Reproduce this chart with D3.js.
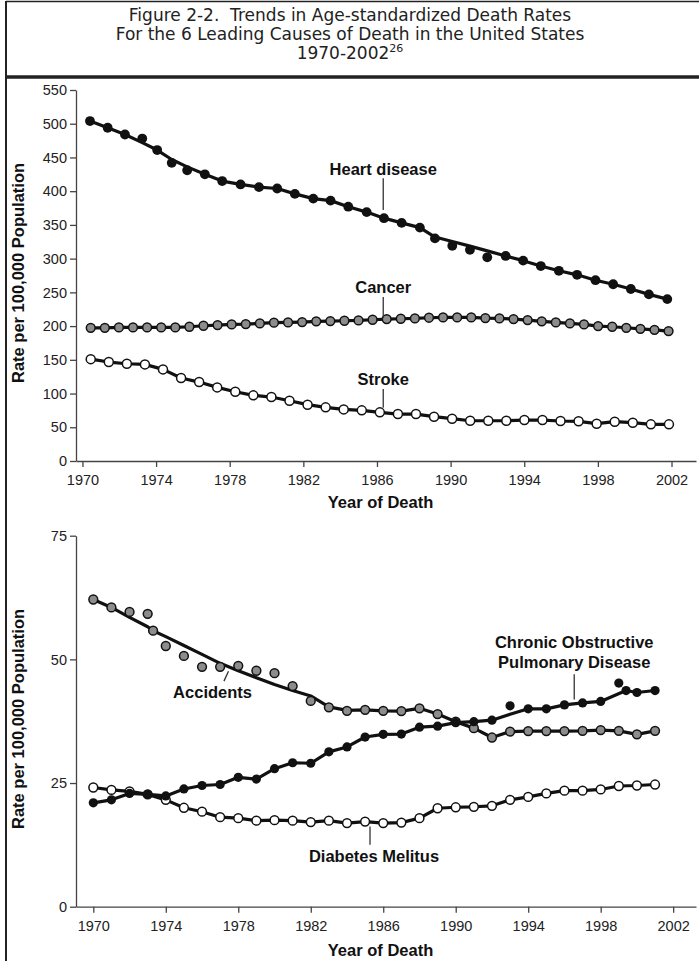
<!DOCTYPE html>
<html>
<head>
<meta charset="utf-8">
<script src="https://cdn.jsdelivr.net/npm/d3@7"></script>
<style>
  body { margin: 0; background: #fff; }
  svg { display: block; }
  .tick text { font-family: "Liberation Sans", Arial, sans-serif; font-size: 14.5px; fill: #222; }
  .tick line, .domain { stroke: #444; stroke-width: 1.3; }
  .lab { font-family: "Liberation Sans", Arial, sans-serif; font-weight: bold; font-size: 16.5px; fill: #111; }
  .ttl { font-family: "DejaVu Sans", sans-serif; font-size: 17px; fill: #222; }
</style>
</head>
<body>
<div id="chart"></div>
<script>
// ---- top panel: heart disease, cancer, stroke ----
const heartYears = [1970.41, 1971.37, 1972.31, 1973.25, 1974.06, 1974.85, 1975.69, 1976.65, 1977.59, 1978.59,
  1979.59, 1980.58, 1981.54, 1982.54, 1983.48, 1984.44, 1985.44, 1986.38, 1987.34, 1988.33,
  1989.15, 1990.09, 1991.05, 1991.99, 1992.99, 1993.94, 1994.9, 1995.88, 1996.87, 1997.87,
  1998.83, 1999.79, 2000.77, 2001.77];
const heartRates = [504, 494, 484, 478, 461, 442, 431, 425, 415, 410,
  406, 404, 396, 389, 386, 377, 369, 360, 353, 346,
  330, 319, 313, 302, 304, 297, 289, 282, 276, 268,
  262, 255, 247, 240];
const heartLine = [504, 494, 484, 472, 461, 447, 436, 425, 415, 410,
  406, 404, 396, 389, 386, 377, 369, 360, 353, 346,
  332, 325.5, 318.5, 311.5, 304, 297, 289, 282, 276, 268,
  262, 255, 247, 240];

// cancer and stroke points are spread evenly between first and last year
const cancerSpan = [1970.45, 2001.84];
const cancerRates = [197.5, 197.5, 198, 198, 198, 198, 198, 199, 200.5, 201.5,
  202.5, 203, 204, 205, 205.4, 206, 207, 207.4, 207.9, 208.4,
  209.4, 210.4, 210.9, 211.4, 212.4, 212.9, 212.9, 212.9, 211.9, 211.4,
  210.4, 208.9, 207, 205.4, 204, 202.5, 200, 199, 197.5, 196,
  194.5, 192.6];
const strokeSpan = [1970.45, 2001.86];
const strokeRates = [151, 146.7, 144.2, 143.2, 135.8, 123, 117, 109.1, 102.7, 97.3,
  94.8, 89.4, 83.5, 79.5, 76.5, 75.1, 72.1, 69.6, 69.6, 65.7,
  62.7, 59.7, 59.7, 59.7, 60.7, 60.7, 59.3, 58.8, 55.3, 58.3,
  56.8, 54.3, 54.3];

const topYTicks = [0, 50, 100, 150, 200, 250, 300, 350, 400, 450, 500, 550];
const yearTicks = [1970, 1974, 1978, 1982, 1986, 1990, 1994, 1998, 2002];

// ---- bottom panel: accidents, COPD, diabetes ----
const accYears = [1970, 1971, 1972, 1973, 1973.3, 1974, 1975, 1976, 1977, 1978,
  1979, 1980, 1981, 1982, 1983, 1984, 1985, 1986, 1987, 1988,
  1989, 1990, 1991, 1992, 1993, 1994, 1995, 1996, 1997, 1998,
  1999, 2000, 2001];
const accRates = [62.1, 60.5, 59.6, 59.2, 55.8, 52.7, 50.7, 48.5, 48.5, 48.7,
  47.7, 47.2, 44.6, 41.6, 40.3, 39.6, 39.8, 39.6, 39.55, 40.1,
  38.95, 37.4, 36.1, 34.2, 35.4, 35.5, 35.5, 35.5, 35.55, 35.7,
  35.55, 34.85, 35.55];
const accLine = [62.1, 60.5, 58.5, 56.6, 55.8, 54.6, 52.8, 51.0, 49.2, 47.7,
  46.3, 44.9, 43.7, 42.6, 40.4, 39.7, 39.8, 39.6, 39.55, 40.1,
  38.95, 37.4, 36.1, 34.2, 35.4, 35.5, 35.5, 35.5, 35.55, 35.7,
  35.55, 34.85, 35.55];

const copdYears = [1970, 1971, 1972, 1973, 1974, 1975, 1976, 1977, 1978, 1979,
  1980, 1981, 1982, 1983, 1984, 1985, 1986, 1987, 1988, 1989,
  1990, 1991, 1992, 1993, 1994, 1995, 1996, 1997, 1998, 1999,
  1999.4, 2000, 2001];
const copdRates = [21.0, 21.6, 22.9, 22.7, 22.4, 23.8, 24.5, 24.7, 26.15, 25.8,
  27.9, 29.1, 29.0, 31.3, 32.3, 34.3, 34.85, 34.9, 36.3, 36.5,
  37.2, 37.4, 37.7, 40.6, 40.0, 40.0, 40.8, 41.2, 41.5, 45.2,
  43.7, 43.3, 43.7];
const copdLine = [21.0, 21.6, 22.9, 22.7, 22.4, 23.8, 24.5, 24.7, 26.15, 25.8,
  27.9, 29.1, 29.0, 31.3, 32.3, 34.3, 34.85, 34.9, 36.3, 36.5,
  37.2, 37.4, 37.7, 38.9, 40.0, 40.0, 40.8, 41.2, 41.5, null,
  43.7, 43.3, 43.7];

const diabYears = d3.range(1970, 2002);
const diabRates = [24.1, 23.6, 23.3, 22.7, 21.6, 20.0, 19.2, 18.1, 17.9, 17.4,
  17.5, 17.4, 17.1, 17.4, 16.9, 17.2, 16.9, 17.0, 17.9, 19.9,
  20.1, 20.2, 20.4, 21.6, 22.2, 22.9, 23.45, 23.45, 23.7, 24.4,
  24.5, 24.7];

const botYTicks = [0, 25, 50, 75];

const titleLines = ["Figure 2-2.  Trends in Age-standardized Death Rates",
  "For the 6 Leading Causes of Death in the United States"];

const W = 699, H = 961;
const svg = d3.select("#chart").append("svg").attr("width", W).attr("height", H);

// frame + title box
svg.append("line").attr("x1", 6).attr("x2", 6).attr("y1", 1).attr("y2", H)
  .attr("stroke", "#222").attr("stroke-width", 2);
svg.append("line").attr("x1", 6).attr("x2", W).attr("y1", 1.5).attr("y2", 1.5)
  .attr("stroke", "#222").attr("stroke-width", 1.5);
svg.append("line").attr("x1", 6).attr("x2", W).attr("y1", 77).attr("y2", 77)
  .attr("stroke", "#222").attr("stroke-width", 3.5);

svg.selectAll("text.ttl").data(titleLines).enter().append("text")
  .attr("class", "ttl").attr("x", 350).attr("y", (d, i) => 21 + i * 18.5)
  .attr("text-anchor", "middle").attr("xml:space", "preserve").text(d => d);
const t3 = svg.append("text").attr("class", "ttl").attr("x", 350).attr("y", 59)
  .attr("text-anchor", "middle");
t3.append("tspan").text("1970-2002");
t3.append("tspan").attr("font-size", "11px").attr("dy", -7).text("26");

// scales
const topX = d3.scaleLinear().domain([1969.65, 2003.33]).range([76, 696]);
const topY = d3.scaleLinear().domain([0, 550]).range([461, 90]);
const botX = d3.scaleLinear().domain([1969.045, 2003.26]).range([76, 696]);
const botY = d3.scaleLinear().domain([0, 75]).range([906.7, 535.7]);

function axes(x, y, yTicks, titleMid, titleBase) {
  svg.append("g").attr("transform", `translate(0,${y.range()[0]})`)
    .call(d3.axisBottom(x).tickValues(yearTicks).tickFormat(d3.format("d"))
      .tickSize(6).tickSizeOuter(0).tickPadding(8));
  svg.append("g").attr("transform", `translate(${x.range()[0]},0)`)
    .call(d3.axisLeft(y).tickValues(yTicks).tickSize(6).tickSizeOuter(0).tickPadding(3));
  svg.append("text").attr("class", "lab").attr("text-anchor", "middle")
    .attr("transform", `translate(24,${titleMid}) rotate(-90)`)
    .text("Rate per 100,000 Population");
  svg.append("text").attr("class", "lab").attr("text-anchor", "middle")
    .attr("x", 380.5).attr("y", titleBase).text("Year of Death");
}
axes(topX, topY, topYTicks, 273, 508);
axes(botX, botY, botYTicks, 719, 956);

// one series = a thick line plus marker dots
function series(x, y, years, rates, line, fill, r) {
  const pts = years.map((yr, i) => ({ yr, v: rates[i], l: line ? line[i] : rates[i] }));
  const path = d3.line().x(d => x(d.yr)).y(d => y(d.l));
  svg.append("path").datum(pts.filter(d => d.l != null))
    .attr("d", path).attr("fill", "none").attr("stroke", "#111")
    .attr("stroke-width", 3.2).attr("stroke-linejoin", "round");
  svg.append("g").selectAll("circle").data(pts).enter().append("circle")
    .attr("cx", d => x(d.yr)).attr("cy", d => y(d.v)).attr("r", r)
    .attr("fill", fill).attr("stroke", "#111")
    .attr("stroke-width", fill === "#111" ? 0 : 1.5);
}

const spread = (span, n) => d3.range(n).map(d3.scaleLinear().domain([0, n - 1]).range(span));

series(topX, topY, spread(strokeSpan, strokeRates.length), strokeRates, null, "#fff", 4.5);
series(topX, topY, spread(cancerSpan, cancerRates.length), cancerRates, null, "#8c8c8c", 4.4);
series(topX, topY, heartYears, heartRates, heartLine, "#111", 4.9);

series(botX, botY, accYears, accRates, accLine, "#8c8c8c", 4.4);
series(botX, botY, diabYears, diabRates, null, "#fff", 4.4);
series(botX, botY, copdYears, copdRates, copdLine, "#111", 4.6);

// annotations with leader lines
function note(x, y, lines, yr, v, leader) {
  svg.append("text").attr("class", "lab").attr("text-anchor", "middle")
    .selectAll("tspan").data(lines).enter().append("tspan")
    .attr("x", x(yr)).attr("y", (d, i) => y(v) + i * 20).text(d => d);
  svg.append("line")
    .attr("x1", x(leader[0])).attr("y1", y(leader[1]))
    .attr("x2", x(leader[2])).attr("y2", y(leader[3]))
    .attr("stroke", "#333").attr("stroke-width", 1.3);
}
note(topX, topY, ["Heart disease"], 1986.34, 423.7, [1986.34, 419, 1986.34, 372]);
note(topX, topY, ["Cancer"], 1986.34, 248.4, [1986.34, 243, 1986.34, 212]);
note(topX, topY, ["Stroke"], 1986.34, 112.6, [1986.34, 106.7, 1986.34, 79]);
note(botX, botY, ["Accidents"], 1976.58, 42.1, [1977.21, 45.6, 1977.46, 47.6]);
note(botX, botY, ["Chronic Obstructive", "Pulmonary Disease"], 1996.54, 52.23, [1996.54, 47.0, 1996.54, 41.9]);
note(botX, botY, ["Diabetes Melitus"], 1985.49, 9.04, [1985.27, 16.2, 1985.27, 12.5]);
</script>
</body>
</html>
